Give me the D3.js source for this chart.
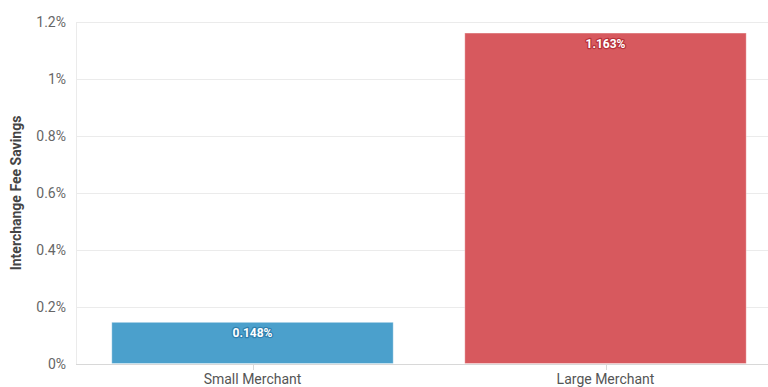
<!DOCTYPE html>
<html>
<head>
<meta charset="utf-8">
<script src="https://cdn.jsdelivr.net/npm/d3@7"></script>
<style>
  body { margin: 0; background: #fff; }
  svg { display: block; font-family: Roboto, "Noto Sans", sans-serif; }
</style>
</head>
<body>
<script>
// chart data
var categories = ["Small Merchant", "Large Merchant"];
var savings = [0.148, 1.163];
var barColors = ["#4ba0cc", "#d7595e"];
var labelHalo = ["#2f7fae", "#b8323a"];
var yTicks = [0, 0.2, 0.4, 0.6, 0.8, 1, 1.2];

var width = 768, height = 387;
var margin = {top: 22, right: -14, bottom: 23, left: 76};

var svg = d3.select("body").append("svg")
    .attr("width", width)
    .attr("height", height);

var x = d3.scaleBand()
    .domain(categories)
    .range([margin.left, width - margin.right])
    .paddingInner(0.2)
    .paddingOuter(0.1);

var y = d3.scaleLinear()
    .domain([0, 1.2])
    .range([height - margin.bottom, margin.top]);

// grid lines
svg.append("g")
  .selectAll("line")
  .data(yTicks)
  .join("line")
    .attr("x1", margin.left)
    .attr("x2", width)
    .attr("y1", function(d) { return Math.round(y(d)) + 0.5; })
    .attr("y2", function(d) { return Math.round(y(d)) + 0.5; })
    .attr("stroke", function(d) { return d === 0 ? "#d8d8d8" : "#ebebeb"; });

// left vertical line
svg.append("line")
    .attr("x1", margin.left + 0.5)
    .attr("x2", margin.left + 0.5)
    .attr("y1", y(1.2))
    .attr("y2", y(0))
    .attr("stroke", "#ebebeb");

// y axis labels
svg.append("g")
  .selectAll("text")
  .data(yTicks)
  .join("text")
    .attr("x", margin.left - 10)
    .attr("y", function(d) { return y(d); })
    .attr("dy", "0.35em")
    .attr("text-anchor", "end")
    .attr("font-size", 14)
    .attr("fill", "#666")
    .text(function(d) { return d3.format("~g")(d) + "%"; });

// y axis title
svg.append("text")
    .attr("transform", "translate(21," + ((y(0) + y(1.2)) / 2) + ") rotate(-90)")
    .attr("text-anchor", "middle")
    .attr("font-size", 14)
    .attr("font-weight", "bold")
    .attr("fill", "#444")
    .text("Interchange Fee Savings");

// x ticks
svg.append("g")
  .selectAll("line")
  .data(categories)
  .join("line")
    .attr("x1", function(d) { return Math.round(x(d) + x.bandwidth() / 2) + 0.5; })
    .attr("x2", function(d) { return Math.round(x(d) + x.bandwidth() / 2) + 0.5; })
    .attr("y1", y(0))
    .attr("y2", y(0) + 6)
    .attr("stroke", "#d8d8d8");

// x labels
svg.append("g")
  .selectAll("text")
  .data(categories)
  .join("text")
    .attr("x", function(d) { return x(d) + x.bandwidth() / 2; })
    .attr("y", y(0) + 20)
    .attr("text-anchor", "middle")
    .attr("font-size", 14)
    .attr("fill", "#555")
    .text(function(d) { return d; });

// bars
svg.append("g")
  .selectAll("rect")
  .data(savings)
  .join("rect")
    .attr("x", function(d, i) { return x(categories[i]) + 0.5; })
    .attr("y", function(d) { return y(d) + 0.5; })
    .attr("width", x.bandwidth() - 1)
    .attr("height", function(d) { return y(0) - y(d) - 1; })
    .attr("fill", function(d, i) { return barColors[i]; })
    .attr("stroke", "rgba(255,255,255,0.35)");

// value labels
svg.append("g")
  .selectAll("text")
  .data(savings)
  .join("text")
    .attr("x", function(d, i) { return x(categories[i]) + x.bandwidth() / 2; })
    .attr("y", function(d) { return y(d) + 15; })
    .attr("text-anchor", "middle")
    .attr("font-size", 12)
    .attr("font-weight", "bold")
    .attr("fill", "#fff")
    .attr("stroke", function(d, i) { return labelHalo[i]; })
    .attr("stroke-width", 2.5)
    .attr("stroke-linejoin", "round")
    .attr("paint-order", "stroke")
    .text(function(d) { return d3.format(".3f")(d) + "%"; });
</script>
</body>
</html>
